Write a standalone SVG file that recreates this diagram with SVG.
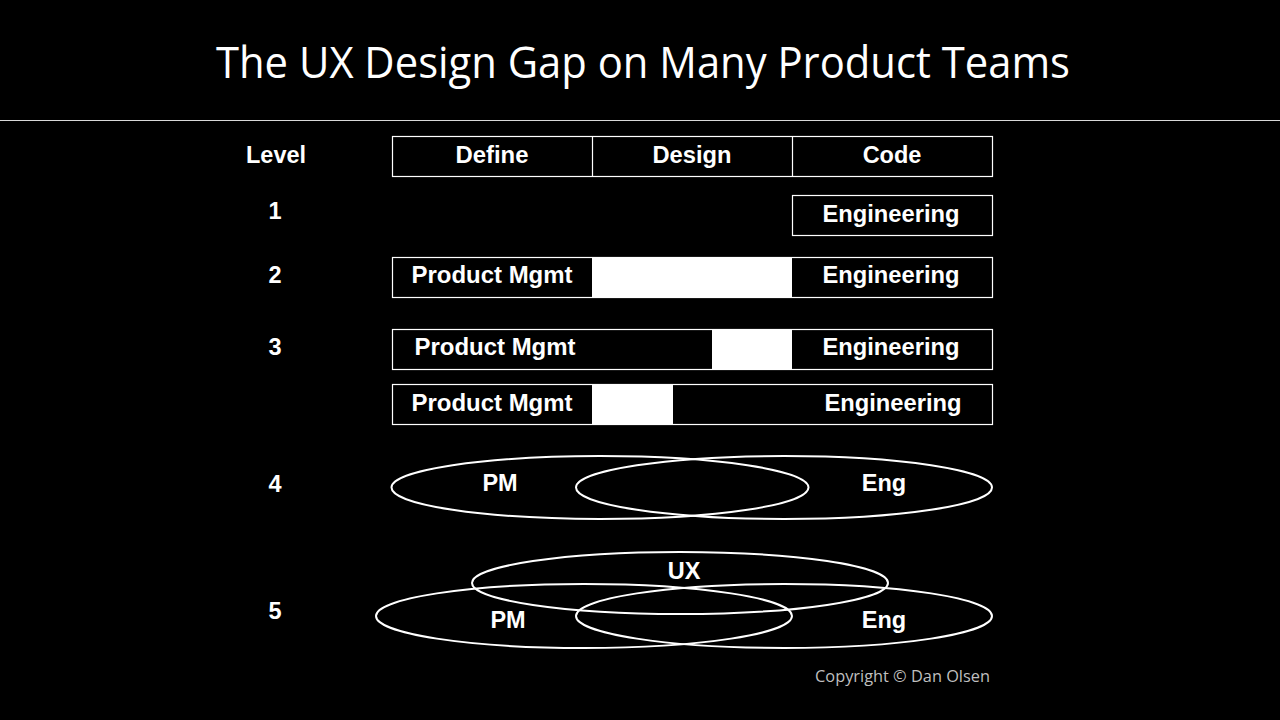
<svg xmlns="http://www.w3.org/2000/svg" width="1280" height="720" viewBox="0 0 1280 720">
<style>
.b{font-family:"Liberation Sans",Arial,sans-serif;font-weight:bold;font-size:23.5px;fill:#fff;text-anchor:middle;dominant-baseline:central}
.box{fill:none;stroke:#fff;stroke-width:1.2}
.gap{fill:#fff}
.ell{fill:none;stroke:#fff;stroke-width:2}
</style>
<rect width="1280" height="720" fill="#000"/>
<g id="title">
<text x="643" y="78" font-family="Open Sans, Noto Sans, sans-serif" font-size="44" fill="#fff" text-anchor="middle" textLength="854" lengthAdjust="spacingAndGlyphs">The UX Design Gap on Many Product Teams</text>
<line x1="0" y1="120.5" x2="1280" y2="120.5" stroke="#d9d9d9" stroke-width="1.2"/>
</g>
<g id="levels">
<text class="b" x="276" y="155">Level</text>
<text class="b" x="275" y="211">1</text>
<text class="b" x="275" y="275">2</text>
<text class="b" x="275" y="347">3</text>
<text class="b" x="275" y="484">4</text>
<text class="b" x="275" y="611">5</text>
</g>
<g id="header">
<rect class="box" x="392.5" y="136.5" width="600" height="40"/>
<line x1="592.5" y1="136.5" x2="592.5" y2="176.5" stroke="#fff" stroke-width="1.2"/>
<line x1="792.5" y1="136.5" x2="792.5" y2="176.5" stroke="#fff" stroke-width="1.2"/>
<text class="b" x="492" y="155" textLength="73" lengthAdjust="spacingAndGlyphs">Define</text>
<text class="b" x="692" y="155" textLength="79" lengthAdjust="spacingAndGlyphs">Design</text>
<text class="b" x="892" y="155">Code</text>
</g>
<g id="row1">
<rect class="box" x="792.5" y="195.5" width="200" height="40"/>
<text class="b" x="891" y="214" textLength="137" lengthAdjust="spacingAndGlyphs">Engineering</text>
</g>
<g id="row2">
<rect class="gap" x="592" y="257" width="200" height="40"/>
<rect class="box" x="392.5" y="257.5" width="600" height="40"/>
<text class="b" x="492" y="275" textLength="161" lengthAdjust="spacingAndGlyphs">Product Mgmt</text>
<text class="b" x="891" y="275" textLength="137" lengthAdjust="spacingAndGlyphs">Engineering</text>
</g>
<g id="row3a">
<rect class="gap" x="712" y="329" width="80" height="40"/>
<rect class="box" x="392.5" y="329.5" width="600" height="40"/>
<text class="b" x="495" y="347" textLength="161" lengthAdjust="spacingAndGlyphs">Product Mgmt</text>
<text class="b" x="891" y="347" textLength="137" lengthAdjust="spacingAndGlyphs">Engineering</text>
</g>
<g id="row3b">
<rect class="gap" x="592" y="384" width="81" height="40"/>
<rect class="box" x="392.5" y="384.5" width="600" height="40"/>
<text class="b" x="492" y="403" textLength="161" lengthAdjust="spacingAndGlyphs">Product Mgmt</text>
<text class="b" x="893" y="403" textLength="137" lengthAdjust="spacingAndGlyphs">Engineering</text>
</g>
<g id="row4">
<ellipse class="ell" cx="600" cy="487.5" rx="208.5" ry="31.5"/>
<ellipse class="ell" cx="784" cy="487.5" rx="208" ry="31.5"/>
<text class="b" x="500" y="483">PM</text>
<text class="b" x="884" y="483">Eng</text>
</g>
<g id="row5">
<ellipse class="ell" cx="680" cy="583" rx="208" ry="31"/>
<ellipse class="ell" cx="584" cy="616" rx="208" ry="32"/>
<ellipse class="ell" cx="784" cy="616" rx="208" ry="32"/>
<text class="b" x="684" y="571">UX</text>
<text class="b" x="508" y="620">PM</text>
<text class="b" x="884" y="620">Eng</text>
</g>
<g id="copyright">
<text x="815" y="682" font-family="Open Sans, Noto Sans, sans-serif" font-size="16" fill="#bfbfbf" textLength="175" lengthAdjust="spacingAndGlyphs">Copyright © Dan Olsen</text>
</g>
</svg>
